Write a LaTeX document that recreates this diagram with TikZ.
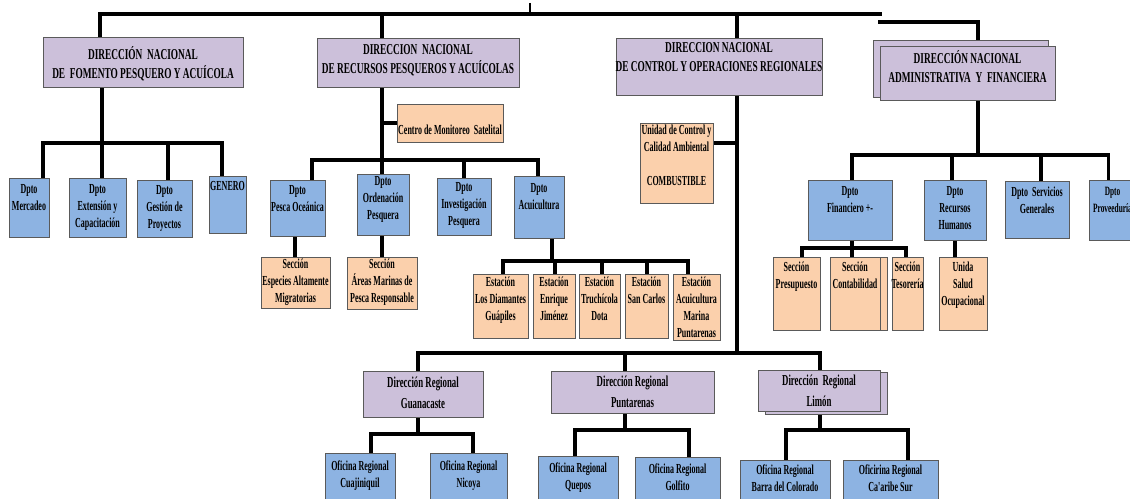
\documentclass[tikz,border=0pt]{standalone}
\usepackage{fontspec}
\newfontfamily\cf{Liberation Serif}[FakeStretch=0.58]
\newfontfamily\cfh{Liberation Serif}[FakeStretch=0.62]
\usetikzlibrary{shadows,backgrounds}
\definecolor{lav}{HTML}{CCC0DA}
\definecolor{blu}{HTML}{8DB3E2}
\definecolor{pch}{HTML}{FBD0AC}
\definecolor{edge}{HTML}{5A5A5A}
\newdimen\PX \PX=0.025cm
\tikzset{
  boxbase/.style={draw=edge, line width=0.5pt, rectangle, inner sep=0pt,
    drop shadow={shadow xshift=1pt,shadow yshift=-1pt,opacity=0.5}},
  headbox/.style={boxbase, fill=lav},
  dptbox/.style={boxbase, fill=blu},
  secbox/.style={boxbase, fill=pch},
  txt/.style={inner sep=0pt, align=center, text=black, font=\cf\bfseries\fontsize{9.8}{12.1}\selectfont},
  headtxt/.style={txt, font=\cfh\bfseries\fontsize{10.7}{13.5}\selectfont},
  regtxt/.style={txt, font=\cf\bfseries\fontsize{10.8}{15}\selectfont},
  conn/.style={line width=2.6pt, line cap=rect, line join=miter, draw=black},
}
\newcommand\bx[9]{%
  \node[#2, minimum width={(#5-#3)*\PX}, minimum height={(#6-#4)*\PX}] (#1) at ({(#3+#5)/2},{(#4+#6)/2}) {};
  \node[#7, anchor=north] (#1t) at ([yshift=-#8\PX]#1.north) {#9};}
\newcommand\vdrop[3]{\draw[conn] ([xshift=#2\PX]#1) -- ([xshift=#2\PX]#1 |- #3);}
\begin{document}
\begin{tikzpicture}[x=0.025cm, y=-0.025cm]
\useasboundingbox (0,0) rectangle (1130,499);
\clip (0,0) rectangle (1130,499);

% back (overlapped) boxes
\node[headbox, minimum width={175*\PX}, minimum height={57*\PX}] (d4b) at (960.5,68.5) {};
\node[secbox, minimum width={51*\PX}, minimum height={73*\PX}] (scb) at (861.5,293.5) {};
\node[headbox, minimum width={122*\PX}, minimum height={42*\PX}] (rlb) at (826,393) {};

% direcciones nacionales
\bx{d1}{headbox}{43}{37}{243}{87}{headtxt}{10}{DIRECCIÓN\ \ NACIONAL\\DE\ \ FOMENTO PESQUERO Y ACUÍCOLA}
\bx{d2}{headbox}{317}{38}{519}{87}{headtxt}{7}{DIRECCION\ \ NACIONAL\\DE RECURSOS PESQUEROS Y ACUÍCOLAS}
\bx{d3}{headbox}{616}{38}{822}{95}{headtxt}{5}{DIRECCION NACIONAL\\DE CONTROL Y OPERACIONES REGIONALES}
\bx{d4}{headbox}{880}{46}{1055}{100}{headtxt}{5}{DIRECCIÓN NACIONAL\\ADMINISTRATIVA\ \ Y\ \ FINANCIERA}

% fomento
\bx{mer}{dptbox}{9}{178}{49}{237}{txt}{7}{Dpto\\Mercadeo}
\bx{ext}{dptbox}{69}{178}{126}{237}{txt}{7}{Dpto\\Extensión y\\Capacitación}
\bx{ges}{dptbox}{137}{180}{192}{237}{txt}{6}{Dpto\\Gestión de\\Proyectos}
\bx{gen}{dptbox}{209}{176}{246}{233}{txt}{5}{GENERO}

% recursos
\bx{cms}{secbox}{397}{104}{503}{142}{txt}{21}{Centro de Monitoreo\ \ Satelital}
\bx{po}{dptbox}{270}{180}{325}{236}{txt}{6}{Dpto\\Pesca Oceánica}
\bx{op}{dptbox}{357}{174}{409}{235}{txt}{3}{Dpto\\Ordenación\\Pesquera}
\bx{ip}{dptbox}{437}{178}{491}{235}{txt}{5}{Dpto\\Investigación\\Pesquera}
\bx{ac}{dptbox}{514}{176}{564}{238}{txt}{8}{Dpto\\Acuicultura}
\bx{s1}{secbox}{261}{257}{330}{308}{txt}{2}{Sección\\Especies Altamente\\Migratorias}
\bx{s2}{secbox}{347}{257}{417}{309}{txt}{2}{Sección\\Áreas Marinas de\\Pesca Responsable}
\bx{e1}{secbox}{473}{274}{528}{338}{txt}{3}{Estación\\Los Diamantes\\Guápiles}
\bx{e2}{secbox}{533}{274}{575}{338}{txt}{3}{Estación\\Enrique\\Jiménez}
\bx{e3}{secbox}{579}{274}{620}{338}{txt}{3}{Estación\\Truchícola\\Dota}
\bx{e4}{secbox}{625}{274}{668}{338}{txt}{3}{Estación\\San Carlos}
\bx{e5}{secbox}{673}{274}{720}{340}{txt}{3}{Estación\\Acuicultura\\Marina\\Puntarenas}

% control
\bx{uc}{secbox}{640}{123}{713}{203}{txt}{2}{Unidad de Control y\\Calidad Ambiental\\[12pt]COMBUSTIBLE}
\bx{rg}{headbox}{363}{371}{483}{417}{regtxt}{6}{Dirección Regional\\Guanacaste}
\bx{rp}{headbox}{551}{371}{714}{413}{regtxt}{5}{Dirección Regional\\Puntarenas}
\bx{rl}{headbox}{758}{370}{880}{411}{regtxt}{5}{Dirección\ \ Regional\\Limón}
\bx{oc}{dptbox}{325}{453}{395}{505}{txt}{8}{Oficina Regional\\Cuajiniquil}
\bx{on}{dptbox}{430}{453}{507}{505}{txt}{8}{Oficina Regional\\Nicoya}
\bx{oq}{dptbox}{538}{456}{618}{505}{txt}{7}{Oficina Regional\\Quepos}
\bx{og}{dptbox}{635}{457}{720}{505}{txt}{7}{Oficina Regional\\Golfito}
\bx{ob}{dptbox}{740}{460}{830}{505}{txt}{5}{Oficina Regional\\Barra del Colorado}
\bx{ocs}{dptbox}{843}{460}{938}{505}{txt}{5}{Oficirina Regional\\Ca'aribe Sur}

% administrativa
\bx{fi}{dptbox}{808}{180}{892}{240}{txt}{7}{Dpto\\Financiero +-}
\bx{rh}{dptbox}{924}{180}{986}{240}{txt}{7}{Dpto\\Recursos\\Humanos}
\bx{sg}{dptbox}{1005}{181}{1069}{238}{txt}{6}{Dpto\ \ Servicios\\Generales}
\bx{pv}{dptbox}{1089}{180}{1136}{240}{txt, font=\cf\bfseries\fontsize{9}{12.1}\selectfont}{7}{Dpto\\Proveeduría}
\bx{sp}{secbox}{773}{257}{820}{330}{txt}{5}{Sección\\Presupuesto}
\bx{sc}{secbox}{830}{257}{880}{330}{txt}{5}{Sección\\Contabilidad}
\bx{st}{secbox}{892}{257}{923}{330}{txt}{5}{Sección\\Tesorería}
\bx{us}{secbox}{939}{257}{987}{330}{txt}{5}{Unida\\Salud\\Ocupacional}

% bar coordinates
\coordinate (top) at (530,3);
\coordinate (tb) at (880,14);
\coordinate (tb2) at (880,22);
\coordinate (bF) at (0,143);
\coordinate (bR) at (0,160);
\coordinate (bE) at (0,261);
\coordinate (bA) at (0,155);
\coordinate (bS) at (0,248);
\coordinate (bG) at (0,353);
\coordinate (bGu) at (0,434);
\coordinate (bPu) at (0,430);
\coordinate (bLi) at (0,430);
\coordinate (ucs) at ([yshift=20\PX]uc.east);

\begin{pgfonlayer}{background}
\fill[white] (0,0) rectangle (1130,499);
% top level
\draw[conn] ([xshift=-43\PX]d1.north) |- (tb);
\vdrop{d2.north}{-36}{tb}
\vdrop{d3.north}{18}{tb}
\draw[line width=1.2pt] (top) -- (top |- tb);
\draw[conn] (tb2) -| ([xshift=10.5\PX]d4.north);
% fomento
\vdrop{d1.south}{-41}{bF}
\vdrop{mer.north}{14}{bF}
\vdrop{ext.north}{4.5}{bF}
\vdrop{ges.north}{3.5}{bF}
\vdrop{gen.north}{-5.5}{bF}
\draw[conn] ([xshift=14\PX]mer.north |- bF) -- ([xshift=-5.5\PX]gen.north |- bF);
% recursos
\vdrop{d2.south}{-36}{bR}
\draw[conn] (cms.west) -- ([xshift=-36\PX]d2.south |- cms.west);
\vdrop{po.north}{14.5}{bR}
\vdrop{op.north}{-1}{bR}
\vdrop{ip.north}{0}{bR}
\vdrop{ac.north}{-1}{bR}
\draw[conn] ([xshift=14.5\PX]po.north |- bR) -- ([xshift=-1\PX]ac.north |- bR);
\vdrop{po.south}{-2.5}{s1.north}
\vdrop{op.south}{-1}{s2.north}
\vdrop{ac.south}{13}{bE}
\vdrop{e1.north}{2.5}{bE}
\vdrop{e2.north}{1}{bE}
\vdrop{e3.north}{2.5}{bE}
\vdrop{e4.north}{0.5}{bE}
\vdrop{e5.north}{-8.5}{bE}
\draw[conn] ([xshift=2.5\PX]e1.north |- bE) -- ([xshift=-8.5\PX]e5.north |- bE);
% control
\draw[conn] (ucs) -- ([xshift=18\PX]d3.south |- ucs);
\vdrop{d3.south}{18}{bG}
\vdrop{rg.north}{-5}{bG}
\vdrop{rp.north}{-7.5}{bG}
\vdrop{rl.north}{1}{bG}
\draw[conn] ([xshift=-5\PX]rg.north |- bG) -- ([xshift=1\PX]rl.north |- bG);
\vdrop{rg.south}{-5}{bGu}
\vdrop{oc.north}{11}{bGu}
\vdrop{on.north}{4.5}{bGu}
\draw[conn] ([xshift=11\PX]oc.north |- bGu) -- ([xshift=4.5\PX]on.north |- bGu);
\vdrop{rp.south}{-7.5}{bPu}
\vdrop{oq.north}{-3}{bPu}
\vdrop{og.north}{11.5}{bPu}
\draw[conn] ([xshift=-3\PX]oq.north |- bPu) -- ([xshift=11.5\PX]og.north |- bPu);
\vdrop{rl.south}{1}{bLi}
\vdrop{ob.north}{1}{bLi}
\vdrop{ocs.north}{17.5}{bLi}
\draw[conn] ([xshift=1\PX]ob.north |- bLi) -- ([xshift=17.5\PX]ocs.north |- bLi);
% administrativa
\vdrop{d4.south}{10.5}{bA}
\vdrop{fi.north}{2}{bA}
\vdrop{rh.north}{-3}{bA}
\vdrop{sg.north}{4}{bA}
\vdrop{pv.north}{-4}{bA}
\draw[conn] ([xshift=2\PX]fi.north |- bA) -- ([xshift=-4\PX]pv.north |- bA);
\vdrop{fi.south}{2}{bS}
\vdrop{sp.north}{5.5}{bS}
\vdrop{sc.north}{-3}{bS}
\vdrop{st.north}{-1.5}{bS}
\draw[conn] ([xshift=5.5\PX]sp.north |- bS) -- ([xshift=-1.5\PX]st.north |- bS);
\vdrop{rh.south}{0}{us.north}
\end{pgfonlayer}
\end{tikzpicture}
\end{document}
